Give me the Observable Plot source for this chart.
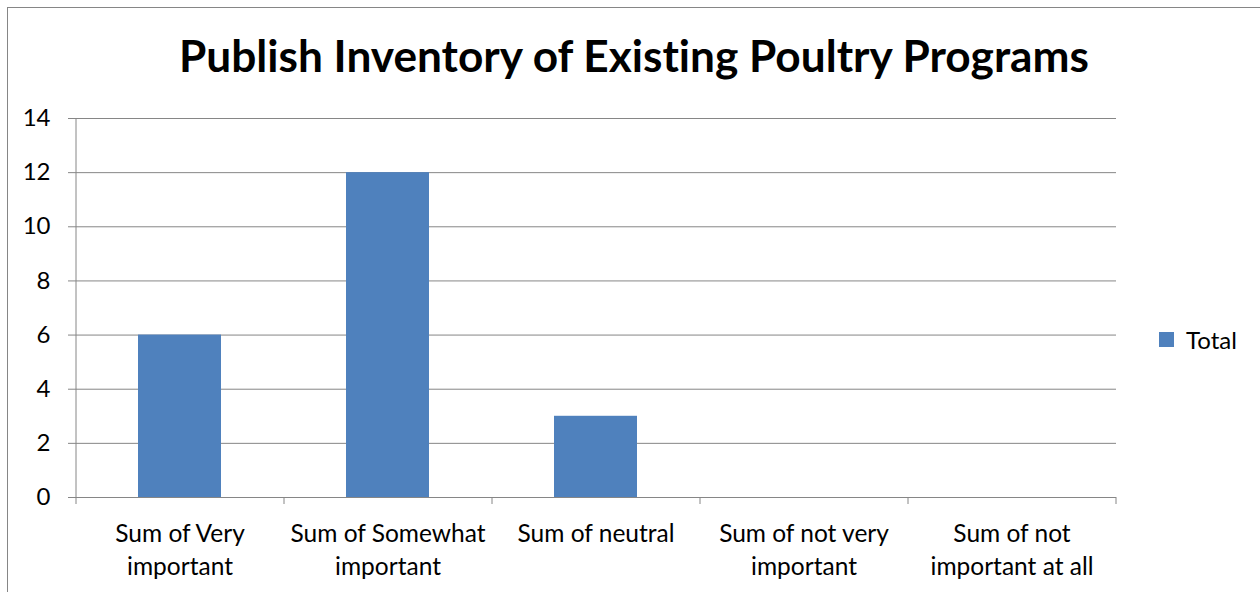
<!DOCTYPE html>
<html>
<head>
<meta charset="utf-8">
<script src="https://cdn.jsdelivr.net/npm/d3@7"></script>
<script src="https://cdn.jsdelivr.net/npm/@observablehq/plot@0.6"></script>
<style>
html, body { margin: 0; padding: 0; background: #fff; overflow: hidden; }
body { width: 1260px; height: 592px; position: relative; font-family: Lato, "Open Sans", sans-serif; font-variant-ligatures: none; }
#frame { position: absolute; left: 7px; top: 7px; width: 1300px; height: 700px; border-top: 1px solid #868686; border-left: 1px solid #868686; box-sizing: border-box; }
#title { position: absolute; left: 634px; top: 33px; transform: translateX(-50%); font-weight: bold; white-space: nowrap; color: #000; line-height: 1; font-family: Lato, sans-serif; font-variant-ligatures: none; }
#chart { position: absolute; left: 0; top: 0; }
#chart svg text { font-variant-ligatures: none; }
#legend { position: absolute; left: 1159px; top: 323px; }
</style>
</head>
<body>
<div id="frame"></div>
<div id="title"></div>
<div id="chart"></div>
<div id="legend"></div>
<script>
// ---- data ----
const titleText = "Publish Inventory of Existing Poultry Programs";
const categories = ["Sum of Very important", "Sum of Somewhat important", "Sum of neutral", "Sum of not very important", "Sum of not important at all"];
const values = [6, 12, 3, 0, 0];
const tickLabels = ["Sum of Very\nimportant", "Sum of Somewhat\nimportant", "Sum of neutral", "Sum of not very\nimportant", "Sum of not\nimportant at all"];
const yTicks = [0, 2, 4, 6, 8, 10, 12, 14];
const seriesName = "Total";

// ---- layout ----
const W = 1260, H = 592, mL = 76, mR = 144, mT = 118, mB = 95;
const step = (W - mL - mR) / categories.length;
const blue = "#4F81BD", axisGray = "#868686";

// title fitted to the reference width
const titleEl = document.getElementById("title");
titleEl.textContent = titleText;
const ctx = document.createElement("canvas").getContext("2d");
ctx.font = "bold 100px Lato";
const fs = 100 * 913 / ctx.measureText(titleText).width;
titleEl.style.fontSize = fs.toFixed(1) + "px";

const data = categories.map((c, i) => ({category: c, value: values[i]}));

const plot = Plot.plot({
  width: W, height: H,
  marginLeft: mL, marginRight: mR, marginTop: mT, marginBottom: mB,
  style: {fontFamily: "Lato, sans-serif", fontSize: "24px", color: "#000", background: "transparent", overflow: "visible"},
  x: {domain: categories, paddingInner: 0.6, paddingOuter: 0.3, label: null},
  y: {domain: [0, 14], label: null},
  marks: [
    Plot.gridY(yTicks, {stroke: axisGray, strokeOpacity: 1}),
    Plot.barY(data, {x: "category", y: "value", fill: blue}),
    Plot.ruleX([categories[0]], {dx: -step / 2, stroke: axisGray}),
    Plot.ruleX(categories, {dx: -step / 2, y1: 0, y2: 0, insetBottom: -7, stroke: axisGray}),
    Plot.ruleX([categories[categories.length - 1]], {dx: step / 2, y1: 0, y2: 0, insetBottom: -7, stroke: axisGray}),
    Plot.axisY(yTicks, {tickSize: 8, tickPadding: 18, stroke: axisGray, strokeOpacity: 1, fill: "#000", fontSize: 24, label: null}),
    Plot.axisX({tickSize: 0, tickPadding: 21, tickFormat: d => tickLabels[categories.indexOf(d)], lineHeight: 1.35, fill: "#000", fontSize: 24.5, label: null})
  ]
});
document.getElementById("chart").appendChild(plot);

const legend = Plot.legend({
  color: {type: "ordinal", domain: [seriesName], range: [blue]},
  legend: "swatches",
  swatchSize: 15,
  style: {fontFamily: "Lato, sans-serif", fontSize: "24px", color: "#000", margin: 0}
});
document.getElementById("legend").appendChild(legend);
</script>
</body>
</html>
